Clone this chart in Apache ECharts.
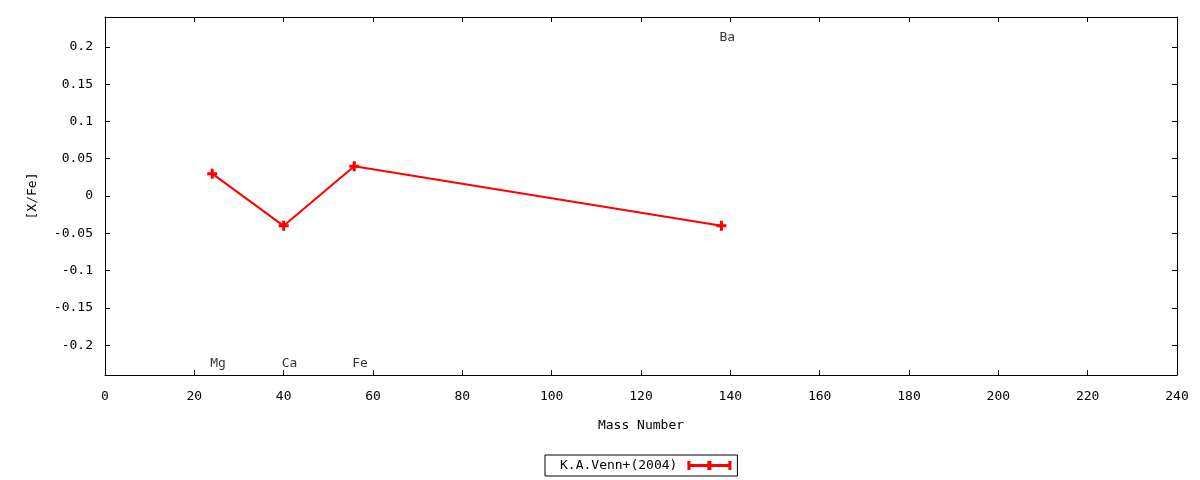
<!DOCTYPE html>
<html>
<head>
<meta charset="utf-8">
<script src="https://cdn.jsdelivr.net/npm/echarts@6/dist/echarts.min.js"></script>
<style>html,body{margin:0;padding:0;background:#fff}#c{width:1200px;height:480px}</style>
</head>
<body>
<div id="c"></div>
<script>
// Data
const seriesName = 'K.A.Venn+(2004)';
const massNumber = [24, 40, 55.8, 138];
const xFe = [0.03, -0.04, 0.04, -0.04];
const elementNames = ['Mg', 'Ca', 'Fe', 'Ba'];
const labelX = [24, 40, 55.8, 138];
const labelY = [-0.225, -0.225, -0.225, 0.212];
const xTicks = [0, 20, 40, 60, 80, 100, 120, 140, 160, 180, 200, 220, 240];

const FONT = 'DejaVu Sans Mono';
const plusPath = 'path://M3.5,0H6.5V3.5H10V6.5H6.5V10H3.5V6.5H0V3.5H3.5Z';
const legendPath = 'path://M0,0H3V9H0Z M41,0H44V9H41Z M0,3H44V6H0Z M20,0H24V9H20Z';

const chart = echarts.init(document.getElementById('c'), null, {renderer: 'canvas'});
const yFmt = v => (Math.abs(v * 20 - Math.round(v * 20)) > 1e-6) ? '' : String(Math.round(v * 100) / 100);
const axisCommon = {
  axisLine: {show: true, onZero: false, lineStyle: {color: '#000', width: 1}},
  axisTick: {show: true, inside: true, length: 5, lineStyle: {color: '#000'}},
  splitLine: {show: false}
};
chart.setOption({
  animation: false,
  backgroundColor: '#fff',
  textStyle: {fontFamily: FONT},
  grid: {left: 105, right: 23, top: 17, bottom: 105, containLabel: false},
  legend: {
    data: [{name: seriesName, icon: legendPath}],
    left: 545, top: 455,
    align: 'right',
    itemWidth: 44, itemHeight: 9, itemGap: 0,
    padding: [3, 6, 3, 15],
    borderColor: '#000', borderWidth: 1,
    textStyle: {fontFamily: FONT, fontSize: 13, color: '#000', lineHeight: 14, padding: [1, 5, 0, 0]}
  },
  xAxis: [
    Object.assign({
      type: 'value', min: xTicks[0], max: xTicks[xTicks.length - 1], interval: 20,
      name: 'Mass Number', nameLocation: 'middle', nameGap: 44,
      nameTextStyle: {fontFamily: FONT, fontSize: 13, color: '#000'},
      axisLabel: {fontFamily: FONT, fontSize: 13, color: '#000', margin: 15}
    }, axisCommon),
    Object.assign({
      type: 'value', position: 'top', min: xTicks[0], max: xTicks[xTicks.length - 1], interval: 20,
      axisLabel: {show: false}
    }, axisCommon)
  ],
  yAxis: [
    Object.assign({
      type: 'value', min: -0.24, max: 0.24, splitNumber: 10,
      name: '[X/Fe]', nameLocation: 'middle', nameGap: 66, nameRotate: 90,
      nameTextStyle: {fontFamily: FONT, fontSize: 13, color: '#000'},
      axisLabel: {fontFamily: FONT, fontSize: 13, color: '#000', margin: 12, formatter: yFmt, showMinLabel: false, showMaxLabel: false}
    }, axisCommon),
    Object.assign({
      type: 'value', position: 'right', min: -0.24, max: 0.24, splitNumber: 10,
      axisLabel: {show: false}
    }, axisCommon)
  ],
  series: [
    {
      name: seriesName, type: 'line',
      data: massNumber.map((m, i) => [m, xFe[i]]),
      symbol: plusPath, symbolSize: 10, showSymbol: true,
      itemStyle: {color: '#ff0000'},
      lineStyle: {color: '#ff0000', width: 2}
    },
    {
      name: 'labels', type: 'scatter',
      data: labelX.map((x, i) => ({value: [x, labelY[i]], name: elementNames[i]})),
      symbolSize: 0, silent: true,
      label: {
        show: true, position: 'inside', align: 'left', verticalAlign: 'middle', offset: [-2, 0],
        formatter: p => p.name, fontFamily: FONT, fontSize: 13, color: '#000'
      }
    }
  ]
});
</script>
</body>
</html>
